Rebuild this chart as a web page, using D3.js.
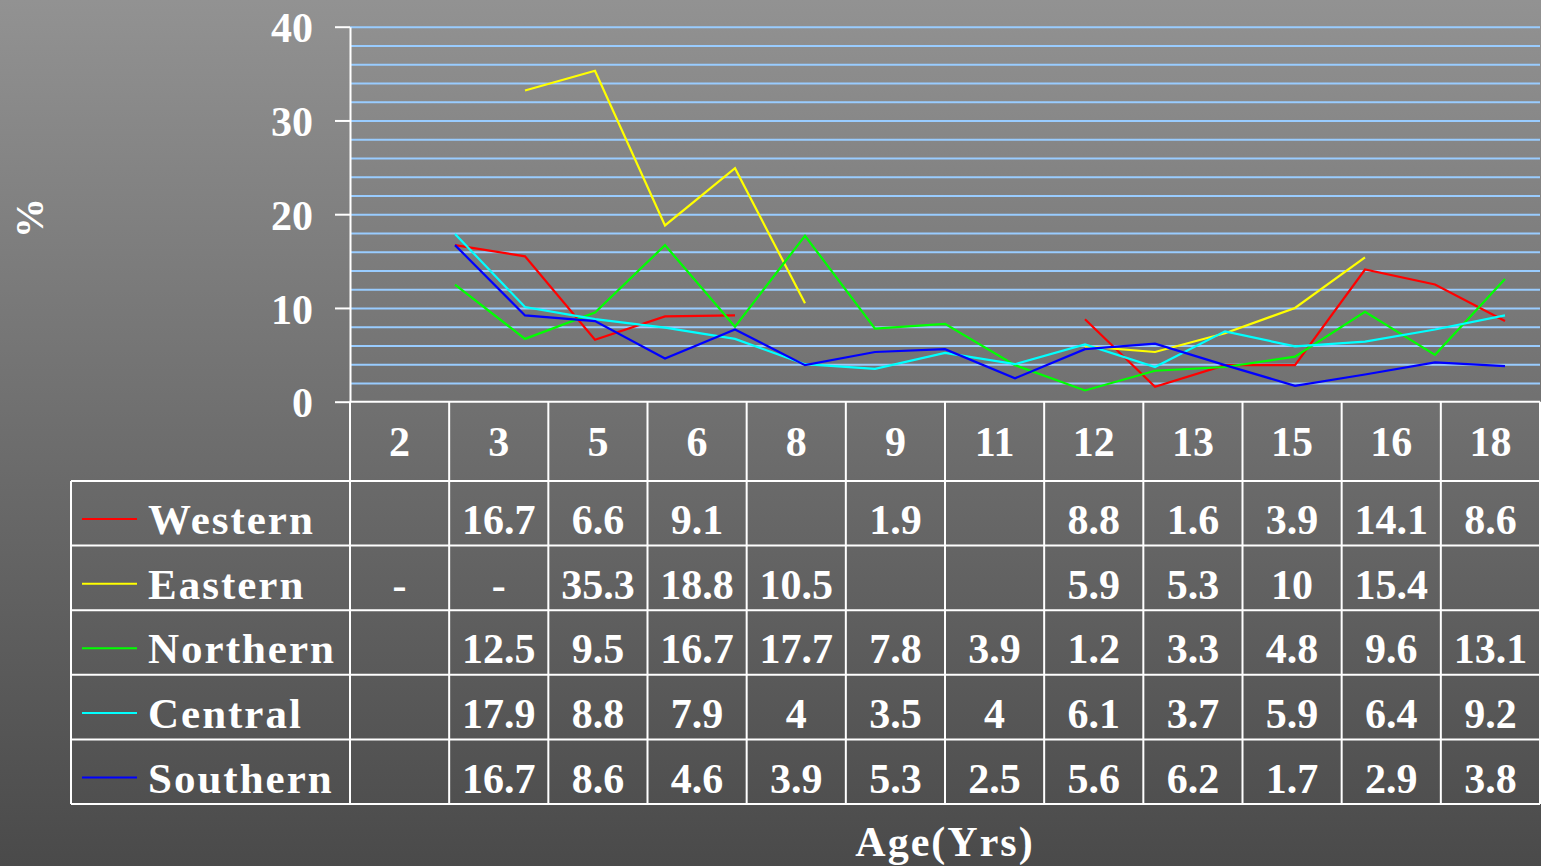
<!DOCTYPE html>
<html>
<head>
<meta charset="utf-8">
<script src="https://cdn.jsdelivr.net/npm/d3@7"></script>
<style>
  html, body { margin: 0; padding: 0; overflow: hidden; background: #4b4b4b; }
  svg { display: block; }
  text { font-family: "Liberation Serif", "Times New Roman", serif; font-weight: bold; fill: #ffffff; }
</style>
</head>
<body>
<svg id="chart" width="1541" height="866"></svg>
<script>
// Ages plotted by the lines (one point per year of age)
const lineAges = [2, 3, 4, 5, 6, 7, 8, 9, 10, 11, 12, 13, 14, 15, 16, 17, 18];
// Ages listed in the data table under the plot
const tableAges = [2, 3, 5, 6, 8, 9, 11, 12, 13, 15, 16, 18];

const seriesNames = ["Western", "Eastern", "Northern", "Central", "Southern"];
const seriesColors = ["#ff0000", "#ffff00", "#00ff00", "#00ffff", "#0000ff"];

// Percentages by age (2..18); null where a region has no value
const western  = [null, 16.7, 15.5, 6.6, 9.1, 9.2, null, null, null, null, 8.8, 1.6, 3.9, 3.9, 14.1, 12.5, 8.6];
const eastern  = [null, null, 33.2, 35.3, 18.8, 24.9, 10.5, null, null, null, 5.9, 5.3, 7.3, 10, 15.4, null, null];
const northern = [null, 12.5, 6.7, 9.5, 16.7, 8.0, 17.7, 7.8, 8.3, 3.9, 1.2, 3.3, 3.7, 4.8, 9.6, 5.0, 13.1];
const central  = [null, 17.9, 10.1, 8.8, 7.9, 6.7, 4, 3.5, 5.2, 4, 6.1, 3.7, 7.5, 5.9, 6.4, 7.7, 9.2];
const southern = [null, 16.7, 9.2, 8.6, 4.6, 7.7, 3.9, 5.3, 5.6, 2.5, 5.6, 6.2, 3.9, 1.7, 2.9, 4.2, 3.8];
const seriesValues = [western, eastern, northern, central, southern];

// Table entries that have no plotted point: [region, age, text]
const tableExtras = [
  ["Western", 9, "1.9"],
  ["Eastern", 2, "-"],
  ["Eastern", 3, "-"]
];

const yTicks = [0, 10, 20, 30, 40];
const xTitle = "Age(Yrs)";
const yTitle = "%";

// ---- layout ----
const W = 1541, H = 866;
const plotL = 350, plotR = 1540, plotT = 26.7, plotB = 401.7;
const tableL = 71, headerB = 481, tableB = 804;

const svg = d3.select("#chart");

// background gradient
const defs = svg.append("defs");
const grad = defs.append("linearGradient").attr("id", "bg")
  .attr("x1", 0).attr("y1", 0).attr("x2", 0).attr("y2", 1);
grad.append("stop").attr("offset", "0%").attr("stop-color", "#929292");
grad.append("stop").attr("offset", "100%").attr("stop-color", "#4a4a4a");
svg.append("rect").attr("width", W).attr("height", H).attr("fill", "url(#bg)");

// scales
const y = d3.scaleLinear().domain([0, 40]).range([plotB, plotT]);
const xLine = d3.scaleBand().domain(lineAges).range([plotL, plotR]);
const xCol = d3.scaleBand().domain(tableAges).range([plotL, plotR]);
const rowBand = d3.scaleBand().domain(seriesNames).range([headerB, tableB]);

// minor gridlines every 2 %
const grid = svg.append("g").attr("transform", `translate(${plotL},0)`)
  .call(d3.axisLeft(y).tickValues(d3.range(2, 41, 2)).tickSize(-(plotR - plotL)).tickFormat(""));
grid.select(".domain").remove();
grid.selectAll("line").attr("stroke", "#99ccff").attr("stroke-width", 2);

// y axis
const yAxis = svg.append("g").attr("transform", `translate(${plotL},0)`)
  .call(d3.axisLeft(y).tickValues(yTicks).tickSize(15).tickPadding(22).tickSizeOuter(0));
yAxis.select(".domain").attr("stroke", "#ffffff").attr("stroke-width", 2);
yAxis.selectAll(".tick line").attr("stroke", "#ffffff").attr("stroke-width", 2);
yAxis.selectAll(".tick text")
  .attr("font-family", "Liberation Serif, serif").attr("font-weight", "bold")
  .attr("font-size", 42).attr("fill", "#ffffff").attr("dy", "0.36em");

// y title
svg.append("text")
  .attr("transform", `translate(43,218) rotate(-90)`)
  .attr("text-anchor", "middle").attr("font-size", 40)
  .text(yTitle);

// series lines
const lineGen = d3.line()
  .defined(d => d.v !== null)
  .x(d => xLine(d.age) + xLine.bandwidth() / 2)
  .y(d => y(d.v));

seriesNames.forEach((name, i) => {
  const pts = lineAges.map((age, k) => ({ age, v: seriesValues[i][k] }));
  svg.append("path").datum(pts)
    .attr("fill", "none").attr("stroke", seriesColors[i]).attr("stroke-width", 2.2)
    .attr("stroke-linejoin", "miter").attr("d", lineGen);
});

// ---- data table ----
const tg = svg.append("g").attr("stroke", "#ffffff").attr("stroke-width", 2);
// x axis / header top
tg.append("line").attr("x1", plotL).attr("x2", plotR).attr("y1", plotB).attr("y2", plotB);
// column boundaries
const colEdges = tableAges.map(a => xCol(a)).concat([plotR]);
colEdges.forEach(x => {
  tg.append("line").attr("x1", x).attr("x2", x).attr("y1", plotB).attr("y2", tableB);
});
// left border of legend column
tg.append("line").attr("x1", tableL).attr("x2", tableL).attr("y1", headerB).attr("y2", tableB);
// row boundaries
const rowEdges = seriesNames.map(n => rowBand(n)).concat([tableB]);
rowEdges.forEach(yy => {
  tg.append("line").attr("x1", tableL).attr("x2", plotR).attr("y1", yy).attr("y2", yy);
});

// header labels
svg.append("g").selectAll("text").data(tableAges).join("text")
  .attr("x", d => xCol(d) + xCol.bandwidth() / 2)
  .attr("y", 456)
  .attr("text-anchor", "middle").attr("font-size", 42)
  .text(d => d);

// rows
function cellText(si, age) {
  const k = lineAges.indexOf(age);
  const v = seriesValues[si][k];
  if (v !== null && v !== undefined) return String(v);
  const ex = tableExtras.find(e => e[0] === seriesNames[si] && e[1] === age);
  return ex ? ex[2] : "";
}

seriesNames.forEach((name, si) => {
  const rowBottom = rowBand(name) + rowBand.bandwidth();
  const base = rowBottom - 11.5;
  // legend key
  svg.append("line")
    .attr("x1", 82).attr("x2", 137).attr("y1", base - 15).attr("y2", base - 15)
    .attr("stroke", seriesColors[si]).attr("stroke-width", 2);
  svg.append("text")
    .attr("x", 148).attr("y", base)
    .attr("font-size", 43).attr("letter-spacing", 2)
    .text(name);
  svg.append("g").selectAll("text").data(tableAges).join("text")
    .attr("x", d => xCol(d) + xCol.bandwidth() / 2)
    .attr("y", base)
    .attr("text-anchor", "middle").attr("font-size", 42)
    .text(d => cellText(si, d));
});

// x title
svg.append("text")
  .attr("x", (plotL + plotR) / 2).attr("y", 856)
  .attr("text-anchor", "middle").attr("font-size", 42).attr("letter-spacing", 2)
  .text(xTitle);
</script>
</body>
</html>
